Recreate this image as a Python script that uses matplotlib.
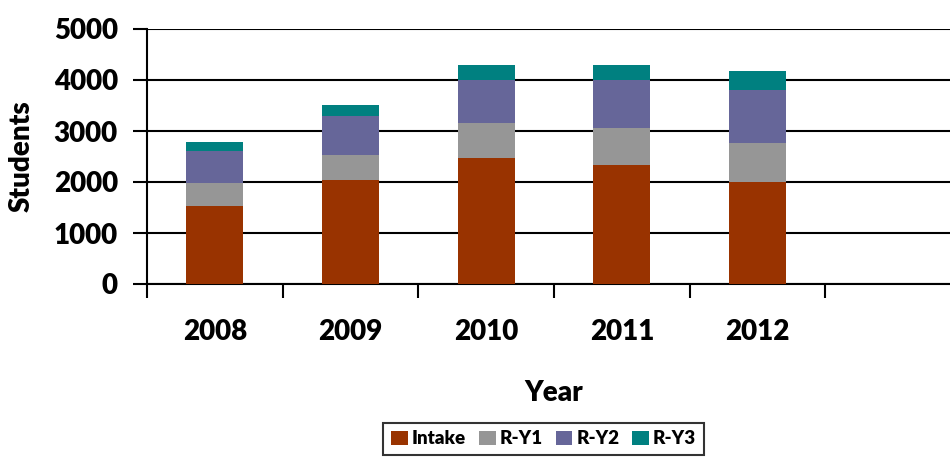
import matplotlib.pyplot as plt
import numpy as np
from matplotlib.patches import Patch

years = ['2008', '2009', '2010', '2011', '2012']
intake = [1520, 2030, 2480, 2330, 2000]
r_y1 = [460, 490, 680, 720, 770]
r_y2 = [620, 780, 840, 950, 1040]
r_y3 = [190, 200, 290, 300, 370]

series = [('Intake', intake, '#993300'),
          ('R-Y1', r_y1, '#969696'),
          ('R-Y2', r_y2, '#666699'),
          ('R-Y3', r_y3, '#008080')]

plt.rcParams['font.family'] = ['Lato', 'DejaVu Sans']
plt.rcParams['font.weight'] = 'heavy'

fig = plt.figure(figsize=(9.5, 4.57), dpi=100)
# the plot area runs past the right edge of the picture (6th empty slot)
ax = fig.add_axes([147 / 950, 173 / 457, 814 / 950, 255 / 457])

x = np.arange(len(years))
bottom = np.zeros(len(years))
for name, vals, col in series:
    ax.bar(x, vals, width=0.42, bottom=bottom, color=col, label=name,
           edgecolor='none', zorder=3)
    bottom += np.array(vals)

ax.set_xlim(-0.5, 5.5)
ax.set_ylim(0, 5000)
ax.set_yticks(range(0, 5001, 1000))
ax.yaxis.grid(True, color='black', linewidth=1.5, zorder=0)
ax.set_axisbelow(True)

ax.set_xticks(x)
ax.set_xticklabels(years)
ax.set_xticks(np.arange(-0.5, 6.0, 1.0), minor=True)
ax.tick_params(axis='x', which='major', length=0, pad=25.5, labelsize=20)
ax.tick_params(axis='x', which='minor', length=10, width=1.5, direction='out')
ax.tick_params(axis='y', length=10, width=1.5, direction='out', pad=11, labelsize=20)

for s in ['top', 'right']:
    ax.spines[s].set_visible(False)
for s in ['left', 'bottom']:
    ax.spines[s].set_linewidth(1.5)

ax.set_xlabel('Year', fontsize=20, fontweight='heavy')
ax.xaxis.set_label_coords(0.5, -0.375)
ax.set_ylabel('Students', fontsize=20, fontweight='heavy')
ax.yaxis.set_label_coords(-0.138, 0.5)

handles = [Patch(facecolor=c, edgecolor='none', label=n) for n, _, c in series]
leg = fig.legend(handles=handles, loc='upper center', ncol=4,
                 bbox_to_anchor=(543.5 / 950, 1 - 423 / 457),
                 bbox_transform=fig.transFigure,
                 fontsize=13.5, frameon=True, fancybox=False,
                 handlelength=0.9, handleheight=0.8, handletextpad=0.2,
                 columnspacing=0.7, borderpad=0.4, borderaxespad=0)
leg.get_frame().set_edgecolor('black')
leg.get_frame().set_linewidth(1.5)

fig.savefig('out.png', dpi=100)
